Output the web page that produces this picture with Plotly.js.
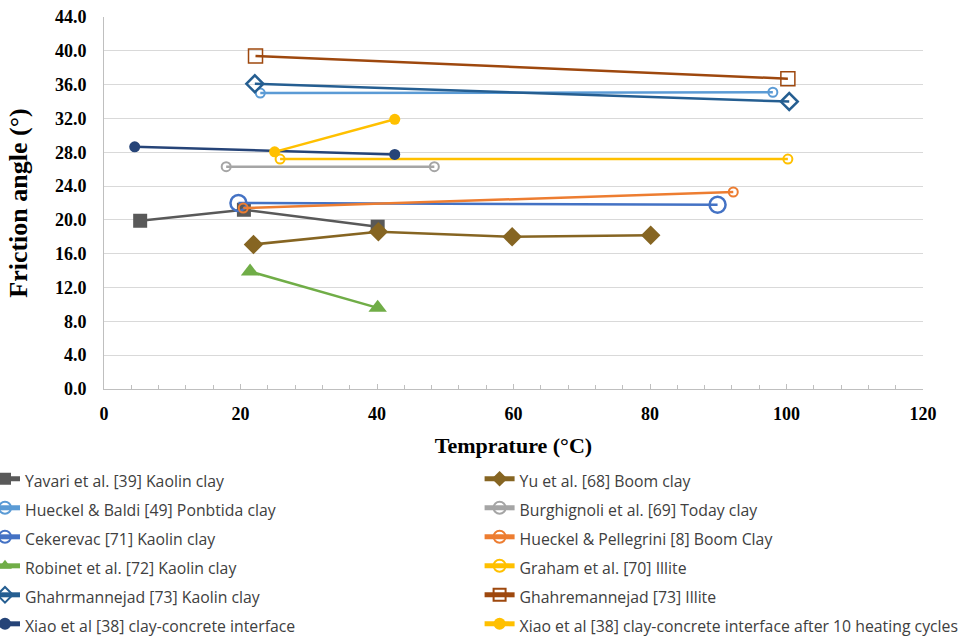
<!DOCTYPE html>
<html>
<head>
<meta charset="utf-8">
<script src="https://cdn.plot.ly/plotly-3.0.1.min.js"></script>
<style>html,body{margin:0;padding:0;background:#fff;}#chart{width:965px;height:639px;}</style>
</head>
<body>
<div id="chart"></div>
<script>
// ---- Data ----
const seriesNames = [
  "Yavari et al. [39] Kaolin clay",
  "Yu et al. [68] Boom clay",
  "Hueckel & Baldi [49] Ponbtida clay",
  "Burghignoli et al. [69] Today clay",
  "Cekerevac [71] Kaolin clay",
  "Hueckel & Pellegrini [8] Boom Clay",
  "Robinet et al. [72] Kaolin clay",
  "Graham et al. [70] Illite",
  "Ghahrmannejad [73] Kaolin clay",
  "Ghahremannejad [73] Illite",
  "Xiao et al [38] clay-concrete interface",
  "Xiao et al [38] clay-concrete interface after 10 heating cycles"
];
const yavariX = [5.3, 20.5, 40.1];   const yavariY = [19.9, 21.2, 19.2];
const yuX = [21.9, 40.2, 59.8, 80.1]; const yuY = [17.1, 18.6, 18.0, 18.2];
const hueckelBaldiX = [22.9, 98.0];  const hueckelBaldiY = [35.0, 35.1];
const burghignoliX = [17.9, 48.4];   const burghignoliY = [26.3, 26.3];
const cekerevacX = [19.7, 89.9];     const cekerevacY = [22.0, 21.8];
const hueckelPellX = [20.4, 92.2];   const hueckelPellY = [21.4, 23.3];
const robinetX = [21.4, 40.1];       const robinetY = [13.9, 9.6];
const grahamX = [25.8, 100.2];       const grahamY = [27.2, 27.2];
const ghahrKaolinX = [22.1, 100.4];  const ghahrKaolinY = [36.1, 34.0];
const ghahrIlliteX = [22.2, 100.2];  const ghahrIlliteY = [39.4, 36.7];
const xiaoX = [4.5, 42.6];           const xiaoY = [28.65, 27.75];
const xiaoCycX = [25.0, 42.6];       const xiaoCycY = [28.05, 31.9];

const xs = [yavariX, yuX, hueckelBaldiX, burghignoliX, cekerevacX, hueckelPellX, robinetX, grahamX, ghahrKaolinX, ghahrIlliteX, xiaoX, xiaoCycX];
const ys = [yavariY, yuY, hueckelBaldiY, burghignoliY, cekerevacY, hueckelPellY, robinetY, grahamY, ghahrKaolinY, ghahrIlliteY, xiaoY, xiaoCycY];

// ---- Styles ----
const colors = ["#595959", "#866522", "#5B9BD5", "#A5A5A5", "#4472C4", "#ED7D31", "#70AD47", "#FFC000", "#255E91", "#9E480E", "#264478", "#FFC000"];
const symbols = ["square", "diamond", "circle-open", "circle-open", "circle-open", "circle-open", "triangle-up", "circle-open", "diamond-open", "square-open", "circle", "circle"];
const sizes = [14, 15, 9, 9, 16, 9, 16, 9, 13, 14, 11, 11];
const mlw = [0, 0, 2, 2, 2.5, 2, 0, 2, 2.5, 1.5, 0, 0];

const traces = seriesNames.map((n, i) => ({
  type: "scatter",
  mode: "lines+markers",
  x: xs[i], y: ys[i],
  name: '<span style="font-size:15.8px">' + n + '</span>',
  legend: (i % 2 === 0) ? "legend" : "legend2",
  line: {color: colors[i], width: 2.5},
  marker: {symbol: symbols[i], size: sizes[i], color: colors[i], line: {color: colors[i], width: mlw[i]}},
  hoverinfo: "x+y"
}));

const serif = "Liberation Serif, Times New Roman, serif";
const legendBase = {
  xref: "paper", yref: "paper",
  xanchor: "left", yanchor: "top",
  orientation: "v",
  font: {family: "Open Sans, Liberation Sans, sans-serif", size: 20, color: "#404040"},
  bgcolor: "rgba(0,0,0,0)",
  itemwidth: 30,
  tracegroupgap: 0,
  itemsizing: "constant"
};

const layout = {
  width: 965, height: 639,
  margin: {l: 104, r: 42, t: 17, b: 250, autoexpand: false},
  paper_bgcolor: "#ffffff", plot_bgcolor: "#ffffff",
  showlegend: true,
  legend: Object.assign({}, legendBase, {x: -0.1453, y: -0.189}),
  legend2: Object.assign({}, legendBase, {x: 0.4586, y: -0.189}),
  xaxis: {
    range: [0, 120], dtick: 20, tick0: 0,
    showgrid: false, zeroline: false,
    showline: true, linecolor: "#bfbfbf", linewidth: 1,
    ticks: "inside", ticklen: 5, tickcolor: "#bfbfbf", tickwidth: 1,
    minor: {dtick: 4, ticks: "inside", ticklen: 4, tickcolor: "#bfbfbf", showgrid: false},
    tickfont: {family: serif, size: 18, color: "#000", weight: "bold"},
    ticklabelstandoff: 8,
    automargin: true,
    title: {text: "Temprature (°C)", font: {family: serif, size: 22, color: "#000", weight: "bold"}, standoff: 15}
  },
  yaxis: {
    range: [0, 44], dtick: 4, tick0: 0, tickformat: ".1f",
    showgrid: true, gridcolor: "#d9d9d9", gridwidth: 1,
    zeroline: false,
    showline: true, linecolor: "#bfbfbf", linewidth: 1,
    ticks: "outside", ticklen: 13, tickcolor: "rgba(0,0,0,0)",
    tickfont: {family: serif, size: 18, color: "#000", weight: "bold"},
    automargin: true,
    title: {text: "Friction angle (°)", font: {family: serif, size: 26, color: "#000", weight: "bold"}, standoff: 19}
  }
};

Plotly.newPlot("chart", traces, layout, {displayModeBar: false, staticPlot: true});
</script>
</body>
</html>
